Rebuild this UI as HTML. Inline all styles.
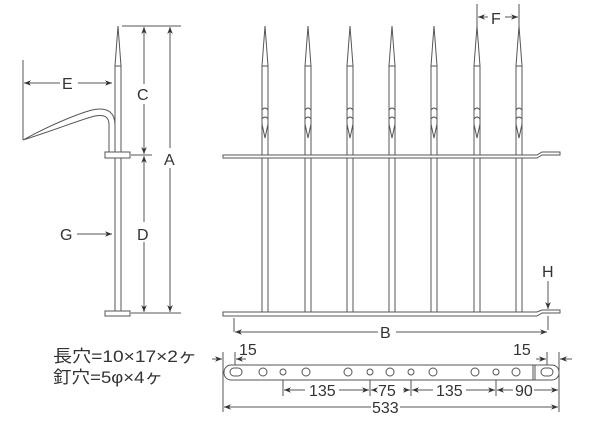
<!DOCTYPE html>
<html><head><meta charset="utf-8"><style>
html,body{margin:0;padding:0;background:#fff}
svg{display:block}
text{font-family:"Liberation Sans","Noto Sans CJK JP",sans-serif;fill:#333}
</style></head><body>
<svg id="s" width="600" height="422" viewBox="0 0 600 422" xmlns="http://www.w3.org/2000/svg" stroke="#555" stroke-width="1" fill="none">
<defs>
<marker id="a" viewBox="0 0 10 10" refX="10" refY="5" markerWidth="7" markerHeight="7" orient="auto-start-reverse"><path d="M0,1 L10,5 L0,9 L3,5z" fill="#333" stroke="none"/></marker>
</defs>
<g>
<path d="M118,26 L115,66 L115,313 M118,26 L121,66 L121,313 M115,66 L121,66"/>
<rect x="105" y="152" width="25" height="6" fill="#fff"/>
<rect x="105" y="311" width="25" height="5" fill="#fff"/>
<path d="M23,140 C50,125 80,113 92,110 C110,106 115,115 115,125 M23,140 C55,130 85,118 95,116 C106,114 109,118 109,125 L109,152 M115,125 L115,152"/>
<path d="M23,60 L23,140"/>
<line x1="24" y1="83" x2="60" y2="83" marker-start="url(#a)"/>
<line x1="78" y1="83" x2="112" y2="83" marker-end="url(#a)"/>
<text x="62" y="89" font-size="16" stroke="none">E</text>
<path d="M122,26 L181,26 M131,155 L152,155 M131,313 L181,313"/>
<line x1="144" y1="27" x2="144" y2="84" marker-start="url(#a)"/>
<line x1="144" y1="104" x2="144" y2="154" marker-end="url(#a)"/>
<text x="137" y="100" font-size="16" stroke="none">C</text>
<line x1="144" y1="156" x2="144" y2="222" marker-start="url(#a)"/>
<line x1="144" y1="242" x2="144" y2="312" marker-end="url(#a)"/>
<text x="137" y="240" font-size="16" stroke="none">D</text>
<line x1="170" y1="27" x2="170" y2="148" marker-start="url(#a)"/>
<line x1="170" y1="168" x2="170" y2="312" marker-end="url(#a)"/>
<text x="164" y="165" font-size="16" stroke="none">A</text>
<text x="60" y="240" font-size="16" stroke="none">G</text>
<line x1="77" y1="234" x2="112" y2="234" marker-end="url(#a)"/>
</g>
<g id="spk"></g>
<path d="M223,155 L537,155 L542,152 L560,152 L560,155 L542,155 L537,158 L223,158 Z" fill="#fff"/>
<path d="M223,312 L537,312 L542,310 L560,310 L560,313 L542,313 L537,316 L223,316 Z" fill="#fff"/>
<text x="542" y="277" font-size="16" stroke="none">H</text>
<line x1="548" y1="281" x2="548" y2="309" marker-end="url(#a)"/>
<path d="M548,316 L548,330 M234,318 L234,332"/>
<line x1="235" y1="332" x2="378" y2="332" marker-start="url(#a)"/>
<line x1="396" y1="332" x2="547" y2="332" marker-end="url(#a)"/>
<text x="380" y="338" font-size="16" stroke="none">B</text>
<rect x="487" y="6" width="18" height="20" fill="#fff" stroke="none"/>
<text x="491" y="24" font-size="16" stroke="none">F</text>
<path d="M477,4 L477,26 M519,4 L519,26"/>
<line x1="488" y1="17" x2="478" y2="17" marker-end="url(#a)"/>
<line x1="505" y1="17" x2="518" y2="17" marker-end="url(#a)"/>
<rect x="224" y="365" width="335" height="15" rx="7" fill="#fff"/>
<rect x="230" y="368" width="12" height="8" rx="4"/>
<rect x="541" y="368" width="12" height="8" rx="4"/>
<path d="M533,365 L533,380 M535,365 L535,380"/>
<g id="holes"></g>
<path d="M223,352 L223,412 M235,352 L235,365 M547,352 L547,365 M559,352 L559,412 M283,380 L283,396 M370,380 L370,396 M411,380 L411,396 M496,380 L496,396"/>
<line x1="212" y1="359" x2="222" y2="359" marker-end="url(#a)"/>
<line x1="246" y1="359" x2="236" y2="359" marker-end="url(#a)"/>
<line x1="536" y1="359" x2="546" y2="359" marker-end="url(#a)"/>
<line x1="572" y1="359" x2="560" y2="359" marker-end="url(#a)"/>
<text x="239" y="355" font-size="16" stroke="none">15</text>
<text x="513" y="355" font-size="16" stroke="none">15</text>
<line x1="305" y1="390" x2="284" y2="390" marker-end="url(#a)"/>
<line x1="339" y1="390" x2="369" y2="390" marker-end="url(#a)"/>
<text x="309" y="396" font-size="16" stroke="none">135</text>
<line x1="376" y1="390" x2="371" y2="390" marker-end="url(#a)"/>
<line x1="403" y1="390" x2="410" y2="390" marker-end="url(#a)"/>
<text x="378" y="396" font-size="16" stroke="none">75</text>
<line x1="433" y1="390" x2="412" y2="390" marker-end="url(#a)"/>
<line x1="466" y1="390" x2="495" y2="390" marker-end="url(#a)"/>
<text x="436" y="396" font-size="16" stroke="none">135</text>
<line x1="513" y1="390" x2="497" y2="390" marker-end="url(#a)"/>
<line x1="534" y1="390" x2="558" y2="390" marker-end="url(#a)"/>
<text x="515" y="396" font-size="16" stroke="none">90</text>
<line x1="371" y1="407" x2="224" y2="407" marker-end="url(#a)"/>
<line x1="400" y1="407" x2="558" y2="407" marker-end="url(#a)"/>
<text x="372" y="413" font-size="16" stroke="none">533</text>
<text x="53" y="362" font-size="17" stroke="none" textLength="144" lengthAdjust="spacingAndGlyphs">長穴=10×17×2ヶ</text>
<text x="53" y="383" font-size="17" stroke="none" textLength="110" lengthAdjust="spacingAndGlyphs">釘穴=5φ×4ヶ</text>
</svg>
<script>
var ns="http://www.w3.org/2000/svg";
function el(p,t,a){var e=document.createElementNS(ns,t);for(var k in a)e.setAttribute(k,a[k]);p.appendChild(e);return e;}
var g=document.getElementById("spk");
[265,308,350,392,434,477,519].forEach(function(x){
 el(g,"path",{d:"M"+x+",26 L"+(x-3)+",66 L"+(x-3)+",312 M"+x+",26 L"+(x+3)+",66 L"+(x+3)+",312 M"+(x-3)+",66 L"+(x+3)+",66 M"+(x-3)+",110 Q"+x+",106 "+(x+3)+",110 M"+(x-3)+",119 Q"+x+",115 "+(x+3)+",119 M"+(x-3)+",124 L"+x+",138 L"+(x+3)+",124"});
});
var h=document.getElementById("holes");
[[263,4],[283,3],[306,4],[348,4],[370,3],[390,4],[411,3],[433,4],[475,4],[496,3],[516,4]].forEach(function(c){el(h,"circle",{cx:c[0],cy:372,r:c[1]});});
</script>
</body></html>
